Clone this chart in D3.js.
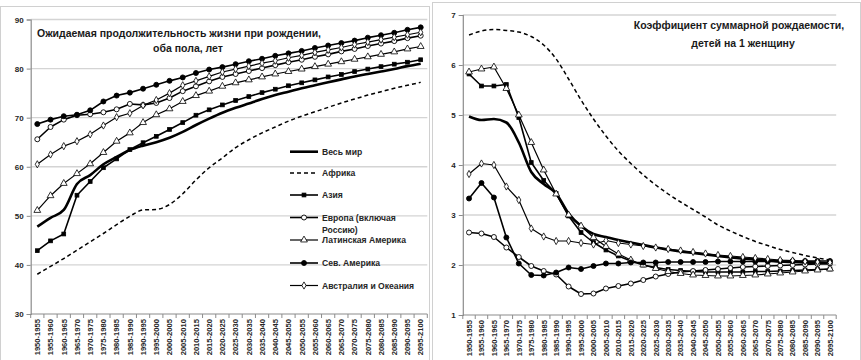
<!DOCTYPE html>
<html><head><meta charset="utf-8">
<script src="https://cdn.jsdelivr.net/npm/d3@7/dist/d3.min.js"></script>
<style>
body{margin:0;background:#fff}
svg{display:block}
text{font-family:"Liberation Sans",Arial,sans-serif;font-weight:bold}
</style>
</head><body>
<svg id="c" width="861" height="360"></svg>
<script>
// ---------- DATA ----------
const periods = ["1950-1955","1955-1960","1960-1965","1965-1970","1970-1975","1975-1980","1980-1985","1985-1990","1990-1995","1995-2000",
"2000-2005","2005-2010","2010-2015","2015-2020","2020-2025","2025-2030","2030-2035","2035-2040","2040-2045","2045-2050",
"2050-2055","2055-2060","2060-2065","2065-2070","2070-2075","2075-2080","2080-2085","2085-2090","2090-2095","2095-2100"];

const seriesNames = ["Весь мир","Африка","Азия","Европа (включая Россию)","Латинская Америка","Сев. Америка","Австралия и Океания"];

// Life expectancy at birth, both sexes, years
const leWorld   = [47.8,49.6,51.2,56.5,58.3,60.5,62.0,63.4,64.3,65.0,65.9,67.1,68.5,69.8,71.0,72.0,72.9,73.8,74.6,75.3,76.0,76.6,77.2,77.8,78.4,78.9,79.4,79.9,80.5,81.0];
const leAfrica  = [38.1,39.7,41.3,43.0,44.7,46.4,48.2,49.9,51.2,51.3,52.3,54.5,57.3,59.8,61.8,63.9,65.5,66.9,68.1,69.3,70.3,71.2,72.1,73.0,73.8,74.6,75.3,76.0,76.6,77.2];
const leAsia    = [42.9,44.9,46.3,54.2,57.0,59.8,61.6,63.5,64.9,66.2,67.6,69.0,70.5,71.6,72.6,73.5,74.3,75.1,75.8,76.5,77.1,77.7,78.3,78.8,79.4,79.9,80.4,80.9,81.3,81.8];
const leEurope  = [65.6,68.1,69.6,70.5,70.7,71.1,71.7,72.8,72.6,73.0,74.0,75.4,76.4,77.4,78.3,78.9,79.5,80.1,80.7,81.3,81.8,82.4,82.9,83.5,84.0,84.6,85.1,85.6,86.2,86.7];
const leLatAm   = [51.1,54.1,56.6,58.6,60.6,62.9,65.2,66.9,69.0,70.6,71.8,73.3,74.5,75.4,76.4,77.1,77.7,78.3,78.9,79.4,79.9,80.4,80.9,81.4,81.9,82.4,82.9,83.4,84.0,84.5];
const leNorthAm = [68.7,69.6,70.3,70.6,71.5,73.3,74.5,75.1,75.9,76.7,77.5,78.2,79.1,79.8,80.3,80.9,81.5,82.0,82.6,83.1,83.6,84.2,84.7,85.2,85.7,86.3,86.8,87.3,87.9,88.4];
const leOceania = [60.5,62.5,64.2,65.2,66.6,68.4,70.1,70.9,72.5,73.6,75.0,76.6,77.5,78.4,79.3,79.9,80.5,81.1,81.6,82.2,82.7,83.3,83.8,84.3,84.9,85.4,85.9,86.4,86.9,87.4];

// Total fertility rate, children per woman
const tfrWorld   = [4.97,4.90,4.92,4.85,4.45,3.86,3.62,3.43,3.03,2.78,2.62,2.56,2.50,2.45,2.40,2.35,2.31,2.27,2.24,2.21,2.18,2.15,2.13,2.11,2.09,2.07,2.06,2.05,2.04,2.03];
const tfrAfrica  = [6.60,6.68,6.71,6.69,6.66,6.57,6.40,6.12,5.72,5.30,4.92,4.58,4.28,4.03,3.80,3.60,3.42,3.26,3.11,2.96,2.80,2.68,2.57,2.47,2.39,2.31,2.25,2.19,2.14,2.10];
const tfrAsia    = [5.82,5.58,5.58,5.61,4.95,4.05,3.69,3.43,2.98,2.65,2.45,2.30,2.18,2.08,2.00,1.95,1.91,1.89,1.87,1.86,1.86,1.86,1.86,1.87,1.87,1.88,1.89,1.90,1.91,1.92];
const tfrEurope  = [2.65,2.63,2.56,2.35,2.16,1.98,1.88,1.81,1.57,1.42,1.43,1.53,1.58,1.63,1.70,1.77,1.82,1.86,1.88,1.90,1.92,1.94,1.96,1.97,1.98,1.99,2.00,2.01,2.02,2.03];
const tfrLatAm   = [5.86,5.92,5.96,5.53,5.00,4.45,3.90,3.42,3.00,2.78,2.55,2.37,2.22,2.10,2.00,1.93,1.87,1.83,1.80,1.79,1.78,1.78,1.79,1.80,1.82,1.84,1.86,1.88,1.90,1.92];
const tfrNorthAm = [3.33,3.64,3.35,2.55,2.03,1.80,1.79,1.85,1.95,1.92,1.98,2.03,2.03,2.05,2.05,2.05,2.06,2.06,2.06,2.06,2.07,2.07,2.07,2.07,2.07,2.08,2.08,2.08,2.08,2.08];
const tfrOceania = [3.82,4.03,4.00,3.57,3.30,2.73,2.57,2.48,2.48,2.44,2.41,2.49,2.44,2.41,2.38,2.35,2.32,2.29,2.26,2.23,2.20,2.18,2.16,2.14,2.12,2.10,2.09,2.07,2.06,2.05];

const leTicks  = [30,40,50,60,70,80,90];
const tfrTicks = [1,2,3,4,5,6,7];

const leTitle  = ["Ожидаемая продолжительность жизни при рождении,","оба пола, лет"];
const tfrTitle = ["Коэффициент суммарной рождаемости,","детей на 1 женщину"];

// ---------- STYLES ----------
const styles = [
  {w:2.6, dash:null,  marker:null},
  {w:1.5, dash:"4,3", marker:null},
  {w:1.6, dash:null,  marker:"square",   fill:"#000", size:3.8},
  {w:1.6, dash:null,  marker:"circle",   fill:"#fff", size:2.5},
  {w:1.2, dash:null,  marker:"triangle", fill:"#fff", size:20},
  {w:1.6, dash:null,  marker:"circle",   fill:"#000", size:2.5},
  {w:1.2, dash:null,  marker:"diamond",  fill:"#fff", size:15}
];

const svg = d3.select("#c");
const gridCol = "#d4d4d4", axisCol = "#8c8c8c", txtCol = "#262626";

function drawMarker(g, type, x, y, st){
  if(type==="square"){
    g.append("rect").attr("x",x-st.size/2).attr("y",y-st.size/2).attr("width",st.size).attr("height",st.size)
      .attr("fill",st.fill).attr("stroke","#000").attr("stroke-width",0.8);
  } else if(type==="circle"){
    g.append("circle").attr("cx",x).attr("cy",y).attr("r",st.size).attr("fill",st.fill).attr("stroke","#000").attr("stroke-width",0.9);
  } else {
    const sym = type==="triangle"? d3.symbolTriangle : d3.symbolDiamond;
    g.append("path").attr("d",d3.symbol().type(sym).size(st.size)()).attr("transform",`translate(${x},${y})`)
      .attr("fill",st.fill).attr("stroke","#000").attr("stroke-width",0.8);
  }
}

function panel(cfg){
  const x = d3.scaleBand().domain(periods).range(cfg.xr);
  const y = d3.scaleLinear().domain(cfg.yd).range(cfg.yr);
  const g = svg.append("g");
  g.append("rect").attr("x",cfg.frame[0]).attr("y",cfg.frame[1]).attr("width",cfg.frame[2]).attr("height",cfg.frame[3])
    .attr("fill","none").attr("stroke","#d0d0d0").attr("stroke-width",1);
  cfg.ticks.forEach((t,i)=>{
    if(i===0) return;
    g.append("line").attr("x1",cfg.xr[0]).attr("x2",cfg.xr[1]).attr("y1",y(t)).attr("y2",y(t))
      .attr("stroke",gridCol).attr("stroke-width",1.3);
  });
  const ya = d3.axisLeft(y).tickValues(cfg.ticks).tickSize(4).tickPadding(3).tickFormat(d3.format("d"));
  const yg = g.append("g").attr("transform",`translate(${cfg.xr[0]},0)`).call(ya);
  yg.select(".domain").attr("stroke",axisCol).attr("stroke-width",1.2);
  yg.selectAll(".tick line").attr("stroke",axisCol);
  yg.selectAll(".tick text").attr("fill",txtCol).style("font-size","8px").style("font-family","Liberation Sans, Arial").style("font-weight","bold");
  const base = y(cfg.yd[0]);
  g.append("line").attr("x1",cfg.xr[0]).attr("x2",cfg.xr[1]).attr("y1",base).attr("y2",base).attr("stroke",axisCol).attr("stroke-width",1.2);
  periods.forEach((p,i)=>{
    const bx = x(p);
    g.append("line").attr("x1",bx+x.bandwidth()).attr("x2",bx+x.bandwidth()).attr("y1",base).attr("y2",base+4).attr("stroke",axisCol);
    if(i===0) g.append("line").attr("x1",bx).attr("x2",bx).attr("y1",base).attr("y2",base+4).attr("stroke",axisCol);
    g.append("text").attr("transform",`translate(${bx+x.bandwidth()/2+2.8},${base+5}) rotate(-90)`)
      .attr("text-anchor","end").attr("fill",txtCol).style("font-size","7.6px").text(p);
  });
  cfg.data.forEach((vals,si)=>{
    const st = styles[si];
    const line = d3.line().x((d,i)=>x(periods[i])+x.bandwidth()/2).y(d=>y(d)).curve(st.marker? d3.curveLinear : d3.curveMonotoneX);
    g.append("path").datum(vals).attr("d",line).attr("fill","none").attr("stroke","#000")
      .attr("stroke-width",st.w).attr("stroke-dasharray",st.dash).attr("stroke-linejoin","round");
    if(st.marker){
      vals.forEach((v,i)=>drawMarker(g, st.marker, x(periods[i])+x.bandwidth()/2, y(v), st));
    }
  });
  cfg.title.forEach((t,i)=>{
    g.append("text").attr("x",cfg.tpos[i][0]).attr("y",cfg.tpos[i][1]).attr("text-anchor","middle")
      .attr("fill","#1a1a1a").style("font-size","10.5px").text(t);
  });
  return g;
}

panel({xr:[30.7,427.3], yd:[30,90], yr:[314,19.5], ticks:leTicks, frame:[0.5,6.5,429,360],
  data:[leWorld,leAfrica,leAsia,leEurope,leLatAm,leNorthAm,leOceania], title:leTitle, tpos:[[179,37],[188,51.5]]});
panel({xr:[462.8,836.2], yd:[1,7], yr:[315,15], ticks:tfrTicks, frame:[432.5,2.5,428,360],
  data:[tfrWorld,tfrAfrica,tfrAsia,tfrEurope,tfrLatAm,tfrNorthAm,tfrOceania], title:tfrTitle, tpos:[[739,29],[743,46.5]]});

const lg = svg.append("g");
const legY = [151.7,173,195,217.5,240,263,285.5];
seriesNames.forEach((n,i)=>{
  const st = styles[i], yy = legY[i];
  lg.append("line").attr("x1",290).attr("x2",318).attr("y1",yy).attr("y2",yy).attr("stroke","#000")
    .attr("stroke-width",st.w).attr("stroke-dasharray",st.dash);
  if(st.marker) drawMarker(lg, st.marker, 304, yy, st);
  if(i===3){
    lg.append("text").attr("x",322).attr("y",yy+3).attr("fill",txtCol).style("font-size","8.6px").text("Европа (включая");
    lg.append("text").attr("x",322).attr("y",yy+15.5).attr("fill",txtCol).style("font-size","8.6px").text("Россию)");
  } else {
    lg.append("text").attr("x",322).attr("y",yy+3).attr("fill",txtCol).style("font-size","8.6px").text(n);
  }
});
</script>
</body></html>
